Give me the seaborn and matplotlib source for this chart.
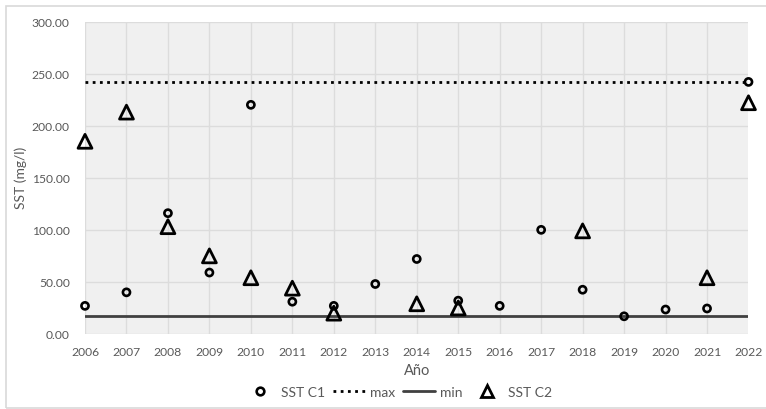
import matplotlib
matplotlib.use("Agg")
import matplotlib.pyplot as plt
from matplotlib.lines import Line2D
from matplotlib.patches import Rectangle
import seaborn as sns
import pandas as pd

years = [2006, 2007, 2008, 2009, 2010, 2011, 2012, 2013, 2014,
         2015, 2016, 2017, 2018, 2019, 2020, 2021, 2022]
sst_c1 = [27, 40, 116, 59, 220, 31, 27, 48, 72,
          32, 27, 100, 42.5, 17, 23.5, 24.5, 242]
c2_years = [2006, 2007, 2008, 2009, 2010, 2011, 2012, 2014, 2015, 2018, 2021, 2022]
sst_c2 = [185, 213, 103, 75, 54, 44, 20, 29, 25, 99, 54, 222]

y_ticks = [0, 50, 100, 150, 200, 250, 300]

df1 = pd.DataFrame({"year": years, "sst": sst_c1})
df2 = pd.DataFrame({"year": c2_years, "sst": sst_c2})
max_val = max(sst_c1)
min_val = min(sst_c1)
df_lim = pd.DataFrame({"year": years,
                       "max": [max_val] * len(years),
                       "min": [min_val] * len(years)})

sns.set_theme(style="white")
plt.rcParams["font.family"] = ["Lato", "DejaVu Sans"]
text_col = "#595959"

fig = plt.figure(figsize=(7.66, 4.10), dpi=100)
W, H = 766, 410
ax = fig.add_axes([85 / W, 1 - 335 / H, (748.5 - 85) / W, (335 - 22.5) / H])
ax.set_facecolor("#f0f0f0")

# outer chart frame
fig.add_artist(Rectangle((5.5 / W, 1 - 409 / H), (775 - 5.5) / W, (409 - 6.5) / H,
                         transform=fig.transFigure, fill=False,
                         edgecolor="#d9d9d9", linewidth=1.2, zorder=0))

sns.lineplot(data=df_lim, x="year", y="max", ax=ax, color="black",
             linestyle=(0, (1, 1.6)), linewidth=2.0, zorder=3)
sns.lineplot(data=df_lim, x="year", y="min", ax=ax, color="#404040",
             linewidth=2.0, zorder=3)
sns.scatterplot(data=df1, x="year", y="sst", ax=ax, marker="o", s=26,
                facecolor="none", edgecolor="black", linewidth=1.9,
                zorder=4, clip_on=False)
sns.scatterplot(data=df2, x="year", y="sst", ax=ax, marker="^", s=100,
                facecolor="none", edgecolor="black", linewidth=2.0,
                zorder=4, clip_on=False)

ax.set_xlim(2006, 2022)
ax.set_ylim(0, 300)
ax.set_xticks(years)
ax.set_xticklabels([str(y) for y in years])
ax.set_yticks(y_ticks)
ax.set_yticklabels([f"{v:.2f}" for v in y_ticks])
ax.tick_params(axis="both", length=0, labelsize=8.7, labelcolor=text_col)
ax.tick_params(axis="x", pad=9)
ax.tick_params(axis="y", pad=11)
ax.grid(True, color="#dcdcdc", linewidth=1.0)
ax.set_axisbelow(True)
for sp in ax.spines.values():
    sp.set_visible(False)

ax.set_xlabel("Año", fontsize=10.5, color=text_col, labelpad=4)
ax.set_ylabel("")
fig.text(21 / W, 1 - 178 / H, "SST (mg/l)", rotation=90, fontsize=10,
         color=text_col, ha="center", va="center")

handles = [
    Line2D([], [], marker="o", linestyle="none", markersize=5.5,
           markerfacecolor="none", markeredgecolor="black", markeredgewidth=1.9),
    Line2D([], [], color="black", linestyle=(0, (1, 1.6)), linewidth=2.0),
    Line2D([], [], color="#404040", linewidth=2.0),
    Line2D([], [], marker="^", linestyle="none", markersize=8,
           markerfacecolor="none", markeredgecolor="black", markeredgewidth=2.0),
]
labels = ["SST C1", "max", "min", "SST C2"]
fig.legend(handles, labels, loc="center", bbox_to_anchor=(398 / W, 1 - 393 / H),
           ncol=4, frameon=False, fontsize=10, labelcolor=text_col,
           handlelength=2.3, handletextpad=0.35, columnspacing=0.6)

fig.savefig("out.png", dpi=100, facecolor="white")
